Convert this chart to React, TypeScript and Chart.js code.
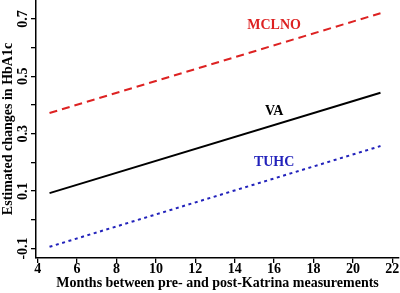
import React, { useEffect, useRef } from "react";
import { Chart, registerables } from "chart.js";

Chart.register(...registerables);

const months = [4.6, 21.4];
const mclno = [0.372, 0.72];
const va = [0.093, 0.443];
const tuhc = [-0.094, 0.257];

const xTicks = [4, 6, 8, 10, 12, 14, 16, 18, 20, 22];
const yTicks = [-0.1, 0, 0.1, 0.2, 0.3, 0.4, 0.5, 0.6, 0.7];
const yTickLabels = ["-0.1", "", "0.1", "", "0.3", "", "0.5", "", "0.7"];

const seriesNames = ["MCLNO", "VA", "TUHC"];
const seriesColors = ["#dd2222", "#000000", "#2222bb"];
const labelX = [16, 16, 16];
const labelY = [0.676, 0.379, 0.2];

const FONT = "'Liberation Serif', 'Times New Roman', serif";

export default function App() {
  const ref = useRef<HTMLCanvasElement | null>(null);

  useEffect(() => {
    if (!ref.current) return;
    const labelsPlugin = {
      id: "textLabels",
      afterDraw(chart: any) {
        const ctx = chart.ctx;
        const xs = chart.scales.x;
        const ys = chart.scales.y;
        ctx.save();
        ctx.font = `bold 14px ${FONT}`;
        ctx.textAlign = "center";
        ctx.textBaseline = "middle";
        // rotated y tick labels
        ys.ticks.forEach((t: any, i: number) => {
          const lab = yTickLabels[yTicks.indexOf(t.value)] ?? "";
          if (!lab) return;
          const py = ys.getPixelForValue(t.value);
          ctx.save();
          ctx.translate(23.5, py);
          ctx.rotate(-Math.PI / 2);
          ctx.fillStyle = "#000";
          ctx.fillText(lab, 0, 0);
          ctx.restore();
        });
        // series labels
        seriesNames.forEach((n, i) => {
          ctx.fillStyle = seriesColors[i];
          ctx.fillText(n, xs.getPixelForValue(labelX[i]), ys.getPixelForValue(labelY[i]));
        });
        ctx.restore();
      },
    };

    const mk = (ys: number[]) => months.map((m, i) => ({ x: m, y: ys[i] }));

    const chart = new Chart(ref.current, {
      type: "line",
      data: {
        datasets: [
          {
            label: "MCLNO",
            data: mk(mclno),
            borderColor: seriesColors[0],
            borderWidth: 2,
            borderDash: [8, 5],
            pointRadius: 0,
          },
          {
            label: "VA",
            data: mk(va),
            borderColor: seriesColors[1],
            borderWidth: 2,
            pointRadius: 0,
          },
          {
            label: "TUHC",
            data: mk(tuhc),
            borderColor: seriesColors[2],
            borderWidth: 2,
            borderDash: [3, 3.6],
            pointRadius: 0,
          },
        ],
      },
      options: {
        animation: false,
        responsive: true,
        maintainAspectRatio: false,
        layout: { padding: { left: 0, right: 1, top: 0, bottom: 0 } },
        plugins: { legend: { display: false }, tooltip: { enabled: false } },
        scales: {
          x: {
            type: "linear",
            min: 3.914,
            max: 22.34,
            afterBuildTicks: (s: any) => {
              s.ticks = xTicks.map((v) => ({ value: v }));
            },
            afterFit: (s: any) => {
              s.height = 35;
              s.paddingLeft = 0;
              s.paddingRight = 0;
            },
            ticks: {
              color: "#000",
              font: { family: FONT, size: 14, weight: "bold", lineHeight: 1 },
              padding: -1,
              maxRotation: 0,
              autoSkip: false,
              callback: (v: any) => String(v),
            },
            grid: {
              drawOnChartArea: false,
              drawTicks: true,
              tickLength: 5,
              color: "#000",
              lineWidth: 1.3,
            },
            border: { display: true, color: "#000", width: 1.5 },
            title: {
              display: true,
              text: "Months between pre- and post-Katrina measurements",
              color: "#000",
              font: { family: FONT, size: 14, weight: "bold" },
              padding: { top: 0, bottom: 1.3 },
            },
          },
          y: {
            type: "linear",
            min: -0.133,
            max: 0.766,
            afterBuildTicks: (s: any) => {
              s.ticks = yTicks.map((v) => ({ value: v }));
            },
            afterFit: (s: any) => {
              s.width = 36;
              s.paddingTop = 0;
              s.paddingBottom = 0;
            },
            ticks: { display: false },
            grid: {
              drawOnChartArea: false,
              drawTicks: true,
              tickLength: 5,
              color: "#000",
              lineWidth: 1.3,
            },
            border: { display: true, color: "#000", width: 1.5 },
            title: {
              display: true,
              text: "Estimated changes in HbA1c",
              color: "#000",
              font: { family: FONT, size: 14, weight: "bold" },
              padding: { top: 0, bottom: 0 },
            },
          },
        },
      },
      plugins: [labelsPlugin],
    });
    return () => chart.destroy();
  }, []);

  return (
    <div style={{ position: "fixed", left: 0, top: 0, width: 400, height: 293, background: "#fff" }}>
      <canvas ref={ref} />
    </div>
  );
}
